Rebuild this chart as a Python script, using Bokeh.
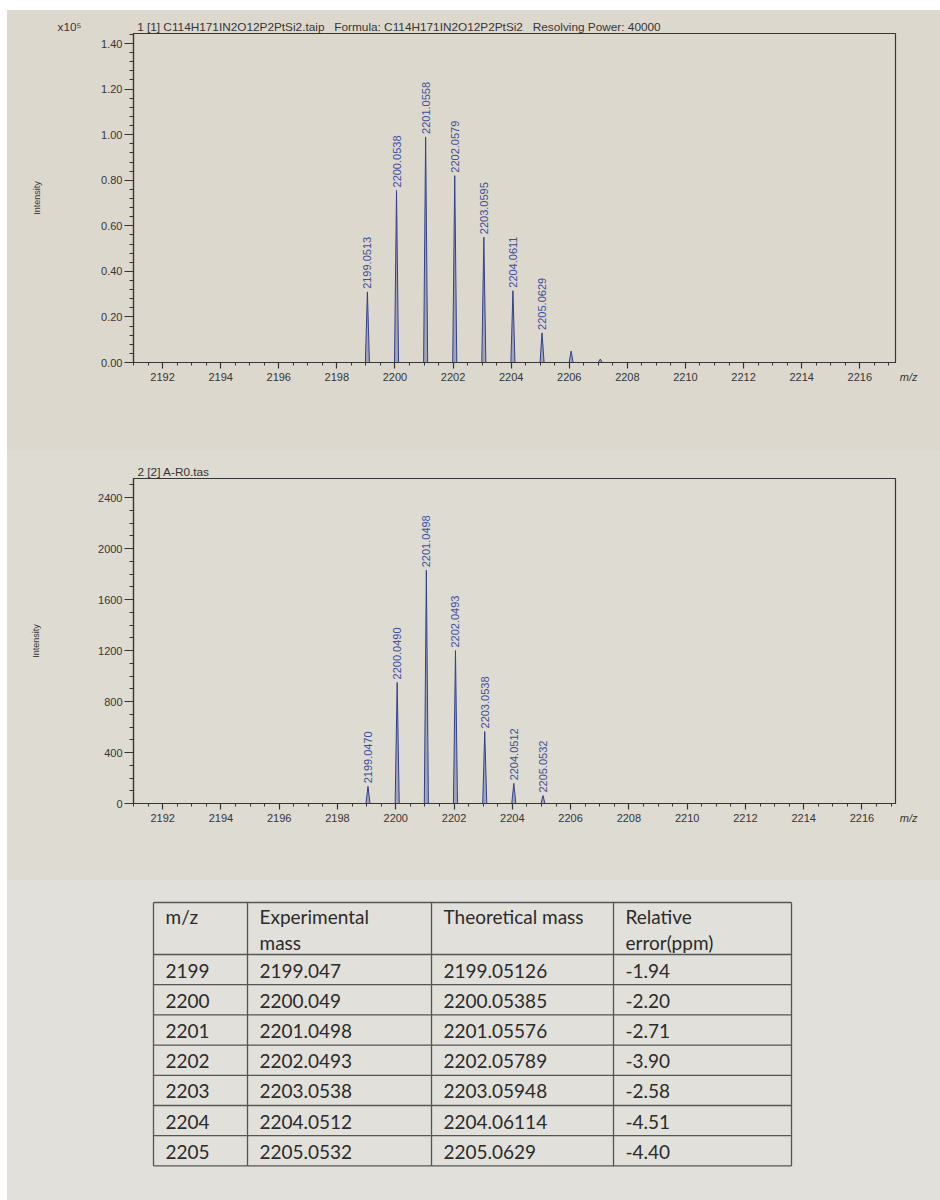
import math

from bokeh.core.properties import value
from bokeh.embed import file_html
from bokeh.layouts import column
from bokeh.models import (ColumnDataSource, PrintfTickFormatter, Range1d,
                          SingleIntervalTicker, Title)
from bokeh.plotting import figure
from bokeh.resources import INLINE

# ---------------------------------------------------------------- data
# Simulated isotope pattern, C114H171IN2O12P2PtSi2 (intensity in units of 1e5)
sim_mz = [2199.0513, 2200.0538, 2201.0558, 2202.0579, 2203.0595,
          2204.0611, 2205.0629, 2206.0650, 2207.0670]
sim_intensity = [0.31, 0.755, 0.99, 0.82, 0.55, 0.315, 0.13, 0.05, 0.015]
sim_annotated = [True, True, True, True, True, True, True, False, False]

# Measured spectrum, A-R0 (counts)
exp_mz = [2199.0470, 2200.0490, 2201.0498, 2202.0493, 2203.0538,
          2204.0512, 2205.0532]
exp_intensity = [135, 950, 1830, 1200, 565, 158, 62]

# Mass accuracy table
table_header = [["m/z"], ["Experimental", "mass"], ["Theoretical mass"],
                ["Relative", "error(ppm)"]]
table_mz = [2199, 2200, 2201, 2202, 2203, 2204, 2205]
table_experimental = [2199.047, 2200.049, 2201.0498, 2202.0493, 2203.0538,
                      2204.0512, 2205.0532]
table_theoretical = [2199.05126, 2200.05385, 2201.05576, 2202.05789,
                     2203.05948, 2204.06114, 2205.0629]
table_error_ppm = [-1.94, -2.20, -2.71, -3.90, -2.58, -4.51, -4.40]

# ---------------------------------------------------------------- styles
FONT = "Liberation Sans"
INK = "#353535"
PEAK = "#33418a"
PEAK_TEXT = "#3d4e9c"
PEAK_HALF_WIDTH = 0.07
PAGE_MARGIN = (10, 0, 0, 7)          # white edge of the sheet (top, left)
W = 940 - PAGE_MARGIN[3]
FRAME_LEFT, FRAME_RIGHT = 126, 888   # frame edges within each figure
GAP = "\u00a0" * 3


def spectrum(height, paper, xr, yr, top, bottom, title, title_offset,
             y_interval, y_minor, y_fmt, label_standoff):
    p = figure(width=W, height=height, output_backend="svg",
               toolbar_location=None, x_range=Range1d(*xr),
               y_range=Range1d(*yr), min_border_left=FRAME_LEFT,
               min_border_right=W - FRAME_RIGHT, min_border_top=top,
               min_border_bottom=bottom,
               styles={"background-color": paper})
    p.background_fill_color = paper
    p.border_fill_color = paper
    p.outline_line_color = INK
    p.outline_line_width = 1.2
    p.grid.visible = False

    p.title.text = title
    p.title.text_font = FONT
    p.title.text_font_size = "11.8px"
    p.title.text_font_style = "normal"
    p.title.text_color = INK
    p.title.offset = title_offset
    p.title.standoff = 0

    xa = p.xaxis[0]
    xa.ticker = SingleIntervalTicker(interval=2, num_minor_ticks=4)
    ya = p.yaxis[0]
    ya.ticker = SingleIntervalTicker(interval=y_interval,
                                     num_minor_ticks=y_minor)
    if y_fmt:
        ya.formatter = PrintfTickFormatter(format=y_fmt)
    ya.axis_label = "Intensity"
    ya.axis_label_text_font = FONT
    ya.axis_label_text_font_size = "9px"
    ya.axis_label_text_font_style = "normal"
    ya.axis_label_text_color = INK
    ya.axis_label_standoff = label_standoff
    for ax in (xa, ya):
        ax.axis_line_color = INK
        ax.axis_line_width = 1.2
        ax.major_tick_line_color = INK
        ax.minor_tick_line_color = INK
        ax.major_tick_line_width = 1.2
        ax.major_tick_in = 0
        ax.minor_tick_in = 0
        ax.major_label_text_font = FONT
        ax.major_label_text_font_size = "11px"
        ax.major_label_text_color = INK
    xa.major_tick_out = 6
    xa.minor_tick_out = 3
    xa.major_label_standoff = 4
    ya.major_tick_out = 9
    ya.minor_tick_out = 4
    ya.major_label_standoff = 2

    # unit caption at the right end of the m/z axis
    unit = Title(text="m/z", align="right", offset=-22, standoff=-26,
                 vertical_align="top", text_font=FONT, text_font_size="11px",
                 text_font_style="italic", text_color=INK)
    p.add_layout(unit, "below")
    return p


def draw_peaks(p, mz, intensity, annotated):
    xs = [[m - PEAK_HALF_WIDTH, m, m + PEAK_HALF_WIDTH] for m in mz]
    ys = [[0, h, 0] for h in intensity]
    p.patches(xs, ys, fill_color=PEAK, fill_alpha=0.35, line_color=PEAK,
              line_width=1)
    lab = ColumnDataSource(dict(
        x=[m for m, a in zip(mz, annotated) if a],
        y=[h for h, a in zip(intensity, annotated) if a],
        t=["%.4f" % m for m, a in zip(mz, annotated) if a]))
    p.text(x="x", y="y", text="t", source=lab, angle=math.pi / 2,
           text_align="left", text_baseline="middle", y_offset=-3,
           text_font=value(FONT), text_font_size="11px",
           text_color=PEAK_TEXT)


# ---------------------------------------------------------------- spectrum 1
# the intensity scale factor leads the title line, left of the axis
p1 = spectrum(440, "#ddd8ce", (2191.0, 2217.23), (0, 1.444), 23, 88,
              "x10\u2075" + "\u00a0" * 17 +
              "1 [1] C114H171IN2O12P2PtSi2.taip" + GAP +
              "Formula: C114H171IN2O12P2PtSi2" + GAP +
              "Resolving Power: 40000",
              -76, 0.2, 5, "%.2f", 56)
draw_peaks(p1, sim_mz, sim_intensity, sim_annotated)

# ---------------------------------------------------------------- spectrum 2
p2 = spectrum(430, "#dedbd3", (2191.0, 2217.15), (0, 2550), 28, 77,
              "2 [2] A-R0.tas", 4, 400, 4, None, 54)
draw_peaks(p2, exp_mz, exp_intensity, [True] * len(exp_mz))

# ---------------------------------------------------------------- table
TH = 320
PAPER3 = "#e2e0da"
p3 = figure(width=W, height=TH, output_backend="svg", toolbar_location=None,
            x_range=Range1d(133, 895), y_range=Range1d(TH, 0),
            x_axis_location=None, y_axis_location=None,
            min_border_left=FRAME_LEFT, min_border_right=W - FRAME_RIGHT,
            min_border_top=0, min_border_bottom=0,
            styles={"background-color": PAPER3})
p3.background_fill_color = PAPER3
p3.border_fill_color = PAPER3
p3.outline_line_color = None
p3.grid.visible = False

TABLE_LEFT = 153
TABLE_TOP = 22
col_widths = [94, 184, 182, 178]
header_height = 52
row_height = 30.2
col_edges = [TABLE_LEFT]
for w in col_widths:
    col_edges.append(col_edges[-1] + w)
row_edges = [TABLE_TOP, TABLE_TOP + header_height]
for _ in table_mz:
    row_edges.append(row_edges[-1] + row_height)

LINE = "#555555"
n_r, n_c = len(row_edges), len(col_edges)
p3.segment(x0=[col_edges[0]] * n_r, x1=[col_edges[-1]] * n_r,
           y0=row_edges, y1=row_edges, line_color=LINE, line_width=1.3)
p3.segment(x0=col_edges, x1=col_edges, y0=[row_edges[0]] * n_c,
           y1=[row_edges[-1]] * n_c, line_color=LINE, line_width=1.3)

TFONT = "Lato"
TSIZE = "19px"
TCOLOR = "#2b2b2b"
PAD = 12
hx, hy, ht = [], [], []
for c, lines in enumerate(table_header):
    for k, line in enumerate(lines):
        hx.append(col_edges[c] + PAD)
        hy.append(row_edges[0] + 14 + 26 * k)
        ht.append(line)
p3.text(x=hx, y=hy, text=ht, text_baseline="middle", text_align="left",
        text_font=value(TFONT), text_font_size=TSIZE, text_color=TCOLOR)

columns = [[str(v) for v in table_mz],
           [repr(v) for v in table_experimental],
           [repr(v) for v in table_theoretical],
           ["%.2f" % v for v in table_error_ppm]]
cx, cy, ct = [], [], []
for c, cells in enumerate(columns):
    for r, cell in enumerate(cells):
        cx.append(col_edges[c] + PAD)
        cy.append((row_edges[r + 1] + row_edges[r + 2]) / 2 + 1)
        ct.append(cell)
p3.text(x=cx, y=cy, text=ct, text_baseline="middle", text_align="left",
        text_font=value(TFONT), text_font_size=TSIZE, text_color=TCOLOR)

layout = column(p1, p2, p3, spacing=0, margin=PAGE_MARGIN)
open("out.html", "w").write(file_html(layout, INLINE))
